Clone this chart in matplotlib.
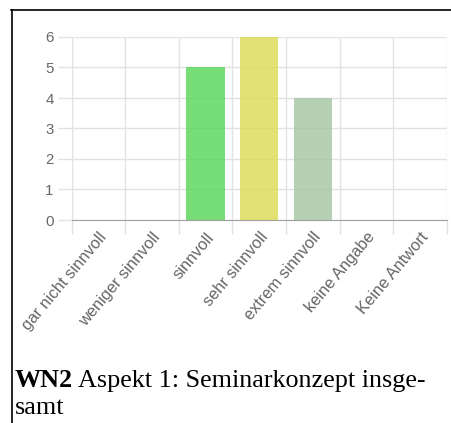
import matplotlib
matplotlib.use('Agg')
import matplotlib.pyplot as plt
from matplotlib.lines import Line2D
import numpy as np

categories = ['gar nicht sinnvoll', 'weniger sinnvoll', 'sinnvoll', 'sehr sinnvoll',
              'extrem sinnvoll', 'keine Angabe', 'Keine Antwort']
counts = [0, 0, 5, 6, 4, 0, 0]
bar_colors = ['#5fd75f', '#5fd75f', '#5fd75f', '#dddc5a', '#a8c8a6', '#a8c8a6', '#a8c8a6']
yticks = [0, 1, 2, 3, 4, 5, 6]
caption_bold = 'WN2'
caption_rest = ' Aspekt 1: Seminarkonzept insge-'
caption_line2 = 'samt'

W, H = 451, 423
fig = plt.figure(figsize=(W / 100, H / 100), dpi=100)
fig.patch.set_facecolor('white')

# frame around the whole item (only top and left visible)
fig.add_artist(Line2D([11 / W, 1.0], [1 - 10.5 / H] * 2, color='black', lw=1.2))
fig.add_artist(Line2D([11.5 / W] * 2, [1 - 10 / H, 0], color='black', lw=1.2))

ax = fig.add_axes([71.7 / W, 1 - 220 / H, (446.7 - 71.7) / W, (220 - 37) / H])
x = np.arange(len(categories))
ax.bar(x, counts, width=0.715, color=bar_colors, alpha=0.85, zorder=3)

ax.set_xlim(-0.5, len(categories) - 0.5)
ax.set_ylim(0, 6)
ax.set_yticks(yticks)
ax.set_yticklabels([str(v) for v in yticks], family='Liberation Sans')
ax.set_xticks(x)
ax.set_xticklabels(categories, rotation=50, ha='right', rotation_mode='anchor',
                   fontsize=11.8, color='#666666', family='Liberation Sans')
ax.set_xticks(np.arange(len(categories) + 1) - 0.5, minor=True)

ax.tick_params(axis='x', which='major', length=0, pad=7)
ax.tick_params(axis='x', which='minor', length=10, color='#e2e2e2', width=1)
ax.tick_params(axis='y', length=10, color='#e2e2e2', width=1, labelsize=10.8,
               labelcolor='#666666', pad=3)

ax.grid(True, which='minor', axis='x', color='#e2e2e2', lw=1, zorder=0)
ax.grid(True, which='major', axis='y', color='#e2e2e2', lw=1, zorder=0)
ax.set_axisbelow(True)

for s in ['top', 'right']:
    ax.spines[s].set_visible(False)
ax.spines['left'].set_color('#e2e2e2')
ax.spines['bottom'].set_color('#a0a0a0')
ax.spines['bottom'].set_zorder(4)

# caption with bold prefix
fig.canvas.draw()
renderer = fig.canvas.get_renderer()
cap_size = 18.8
t1 = fig.text(15 / W, 1 - 387 / H, caption_bold, fontsize=cap_size, fontweight='bold',
              family='Liberation Serif', va='baseline', ha='left')
bb = t1.get_window_extent(renderer=renderer)
fig.text(bb.x1 / W, 1 - 387 / H, caption_rest, fontsize=cap_size,
         family='Liberation Serif', va='baseline', ha='left')
fig.text(15 / W, 1 - 414 / H, caption_line2, fontsize=cap_size,
         family='Liberation Serif', va='baseline', ha='left')

fig.savefig('out.png', dpi=100)
